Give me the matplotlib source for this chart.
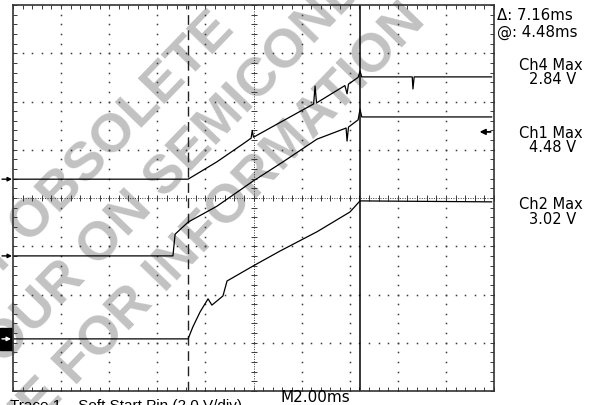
import matplotlib
matplotlib.use("Agg")
import matplotlib.pyplot as plt
import matplotlib.transforms as mtransforms
import numpy as np

# time in ms (2 ms/div, 10 div), amplitude in divisions (8 div)
ch4_t = [0, 7.28, 8.48, 9.56, 9.90, 9.95, 10.0, 11.23, 12.50, 12.56, 12.62, 13.80,
         13.89, 13.95, 14.35, 14.43, 14.50, 16.60, 16.63, 16.68, 19.9]
ch4_v = [0.39, 0.39, 0.75, 1.12, 1.24, 1.40, 1.26, 1.60, 1.95, 2.32, 1.97, 2.33,
         2.16, 2.36, 2.50, 2.63, 2.51, 2.51, 2.26, 2.51, 2.51]

ch1_t = [0, 6.65, 6.74, 7.28, 8.48, 9.98, 11.23, 12.64, 13.85, 13.89, 13.95, 14.35,
         14.43, 14.50, 19.9]
ch1_v = [-1.20, -1.20, -0.75, -0.50, -0.17, 0.35, 0.75, 1.22, 1.45, 1.18, 1.47, 1.62,
         1.84, 1.68, 1.68]

ch2_t = [0, 7.28, 7.48, 7.78, 8.11, 8.27, 8.73, 8.90, 9.98, 11.10, 12.64, 14.01,
         14.43, 19.9]
ch2_v = [-2.92, -2.92, -2.67, -2.36, -2.09, -2.22, -2.03, -1.72, -1.41, -1.10, -0.70,
         -0.29, -0.06, -0.08]

cursor1 = 7.28
cursor2 = 14.44
trig_level = 1.37

readouts = [("\u0394: 7.16ms", 497, 16), ("@: 4.48ms", 497, 32)]
meas = [("Ch4 Max", "2.84 V", 65), ("Ch1 Max", "4.48 V", 133), ("Ch2 Max", "3.02 V", 205)]
watermark = [("PRODUCT OBSOLETE", 236, 31),
             ("CONTACT YOUR ON SEMICONDUCTOR", 500, -148),
             ("REPRESENTATIVE FOR INFORMATION", 427, 22)]

W, H = 595, 406
fig = plt.figure(figsize=(W / 100, H / 100), dpi=100)
ax = fig.add_axes([13 / W, 14 / H, 481 / W, 386 / H])
ax.set_zorder(1)
ax.patch.set_alpha(0)
ax.set_xlim(0, 20)
ax.set_ylim(-4, 4)

# watermark behind everything
for txt, px, py in watermark:
    fig.text(px / W, 1 - py / H, txt, rotation=46, rotation_mode="anchor",
             ha="right", va="baseline", fontsize=39, fontweight="bold",
             family="Liberation Sans", color="#c2c2c2", zorder=0)

# graticule
gcol = "#3a3a3a"
xmin = np.arange(0, 20.001, 0.4)
ymin = np.arange(-4, 4.001, 0.2)
for x in range(2, 20, 2):
    if x == 10:
        continue
    ax.plot([x] * len(ymin), ymin, ls="none", marker="s", ms=1.1, mew=0, color=gcol)
for y in range(-3, 4):
    if y == 0:
        continue
    ax.plot(xmin, [y] * len(xmin), ls="none", marker="s", ms=1.1, mew=0, color=gcol)
ax.axvline(10, ls=(0, (1, 1.5)), lw=0.7, color=gcol)
ax.axhline(0, ls=(0, (1, 1.5)), lw=0.7, color=gcol)
ax.plot(xmin, [0] * len(xmin), ls="none", marker="|", ms=5, mew=0.7, color=gcol)
ax.plot([10] * len(ymin), ymin, ls="none", marker="_", ms=5, mew=0.7, color=gcol)

ax.set_xticks([])
ax.set_yticks([])
ax.set_xticks(xmin, minor=True)
ax.set_yticks(ymin, minor=True)
ax.tick_params(which="minor", direction="in", length=3, width=0.7, color=gcol,
               top=True, right=True, labelbottom=False, labelleft=False)
for s in ax.spines.values():
    s.set_color("#333333")
    s.set_linewidth(1.2)

# cursors
ax.axvline(cursor1, color="#222222", lw=1.0, ls=(0, (7, 4)))
ax.axvline(cursor2, color="black", lw=1.1)

# traces
for t, v in [(ch4_t, ch4_v), (ch1_t, ch1_v), (ch2_t, ch2_v)]:
    ax.plot(t, v, color="black", lw=0.9)

# channel markers on the left
tr = mtransforms.blended_transform_factory(fig.transFigure, ax.transData)
arrow = dict(arrowstyle="-|>", color="black", lw=1.0, mutation_scale=6,
             shrinkA=0, shrinkB=0)
for lvl in (ch4_v[0], ch1_v[0]):
    ax.annotate("", xy=(12 / W, lvl), xytext=(2 / W, lvl), xycoords=tr,
                textcoords=tr, arrowprops=arrow, annotation_clip=False)
ax.add_patch(plt.Rectangle((0, ch2_v[0] - 0.22), 12 / W, 0.44, transform=tr,
                           color="black", clip_on=False))
ax.annotate("", xy=(11 / W, ch2_v[0]), xytext=(2 / W, ch2_v[0]), xycoords=tr,
            textcoords=tr, annotation_clip=False,
            arrowprops=dict(arrowstyle="-|>", color="white", lw=1.0, mutation_scale=6,
                            shrinkA=0, shrinkB=0))
tr_r = mtransforms.blended_transform_factory(ax.transAxes, ax.transData)
ax.annotate("", xy=(0.97, trig_level), xytext=(0.993, trig_level), xycoords=tr_r,
            textcoords=tr_r, arrowprops=dict(arrowstyle="-|>", color="black", lw=1.3,
                                             mutation_scale=8, shrinkA=0, shrinkB=0))

# readouts
for txt, px, py in readouts:
    fig.text(px / W, 1 - py / H, txt, ha="left", va="center", fontsize=10.8)
for a, b, py in meas:
    fig.text(551 / W, 1 - py / H, a, ha="center", va="center", fontsize=10.5)
    fig.text(553 / W, 1 - (py + 15) / H, b, ha="center", va="center", fontsize=10.5)

fig.text(315 / W, 1 - 398 / H, "M2.00ms", ha="center", va="center", fontsize=11)
fig.text(10 / W, 1 - 399 / H, "Trace 1 \u2013 Soft Start Pin (2.0 V/div)", ha="left",
         va="top", fontsize=11, family="Liberation Sans")

fig.savefig("out.png", dpi=100)
